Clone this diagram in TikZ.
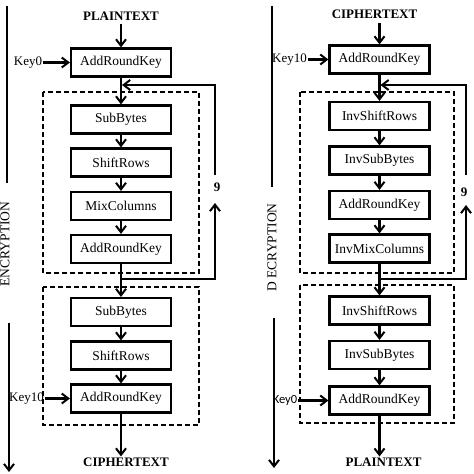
\documentclass[tikz,border=0pt]{standalone}
\usepackage{fontspec}
\setmainfont{Liberation Serif}
\newfontfamily\keysans{Carlito}
\usetikzlibrary{arrows.meta}
\tikzset{
  box/.style={draw, line width=2.2pt, minimum width=100pt, minimum height=28pt, inner sep=0pt, font=\fontsize{13.5}{15}\selectfont},
  lbl/.style={inner sep=1pt, font=\fontsize{13}{14}\selectfont},
  ttl/.style={inner sep=1pt, font=\fontsize{13}{14}\selectfont\bfseries},
  side/.style={inner sep=0pt, rotate=90, font=\fontsize{13.5}{14}\selectfont},
  ln/.style={line width=2.1pt},
  arr/.style={line width=2.1pt, -{Straight Barb[length=6.5pt,width=10pt,line width=2pt]}},
  dashbox/.style={line width=2pt, dash pattern=on 5pt off 3pt}
}
\begin{document}
\begin{tikzpicture}[x=1pt,y=-1pt]
\useasboundingbox[fill=white] (0,0) rectangle (474,474);

% ---------------- ENCRYPTION (left) ----------------
\node[side] (enc) at (5,244) {ENCRYPTION};
\coordinate (eu1) at (7,6);
\coordinate (eu2) at (7,183);
\coordinate (ed1) at (9,323);
\coordinate (ed2) at (9,472);
\draw[ln] (eu1) -- (eu2);
\draw[arr] (ed1) -- (ed2);

\draw[dashbox] (43,92) rectangle (199,273);
\draw[dashbox] (43,287) rectangle (199,425);

\node[ttl] (lpt) at (121,16) {PLAINTEXT};
\node[box] (l1) at (121,62.5) {AddRoundKey};
\node[box] (l2) at (121,119.5) {SubBytes};
\node[box] (l3) at (121,162.5) {ShiftRows};
\node[box] (l4) at (121,206) {MixColumns};
\node[box] (l5) at (121,249) {AddRoundKey};
\node[box] (l6) at (121,312) {SubBytes};
\node[box] (l7) at (121,355.5) {ShiftRows};
\node[box] (l8) at (121,398.5) {AddRoundKey};
\node[ttl] (lct) at (126,462) {CIPHERTEXT};
\node[lbl] (lk0) at (28,62.5) {Key0};
\node[lbl] (lk10) at (26.5,398.5) {Key10};
\node[ttl] (l9) at (217,187) {9};

\draw[arr] (lpt.south) ++(0,3) -- (l1.north);
\draw[arr] (lk0) -- (l1);
\draw[arr] (l1) -- (l2);
\draw[arr] (l2) -- (l3);
\draw[arr] (l3) -- (l4);
\draw[arr] (l4) -- (l5);
\draw[arr] (l5) -- (l6);
\draw[arr] (l6) -- (l7);
\draw[arr] (l7) -- (l8);
\draw[arr] (lk10) -- (l8);
\draw[arr] (l8.south) -- (l8.south |- lct.north);

\coordinate (lj) at (121,279);
\coordinate (la) at (215,279);
\coordinate (lb) at (215,203);
\coordinate (lc) at (215,175);
\coordinate (ld) at (215,85);
\coordinate (le) at (122,85);
\draw[arr] (lj) -- (la) -- (lb);
\draw[arr] (lc) -- (ld) -- (le);

% ---------------- DECRYPTION (right) ----------------
\node[side] (dec) at (272,247.5) {D ECRYPTION};
\coordinate (du1) at (272,6);
\coordinate (du2) at (272,187);
\coordinate (dd1) at (274,318);
\coordinate (dd2) at (274,468);
\draw[ln] (du1) -- (du2);
\draw[arr] (dd1) -- (dd2);

\draw[dashbox] (300,92) rectangle (454,273);
\draw[dashbox] (300,285) rectangle (454,423);

\node[ttl] (rct) at (374.5,14) {CIPHERTEXT};
\node[box] (r1) at (379.5,59.5) {AddRoundKey};
\node[box] (r2) at (379.5,116) {InvShiftRows};
\node[box] (r3) at (379.5,160.5) {InvSubBytes};
\node[box] (r4) at (379.5,205) {AddRoundKey};
\node[box] (r5) at (379.5,248.5) {InvMixColumns};
\node[box] (r6) at (379.5,310.5) {InvShiftRows};
\node[box] (r7) at (379.5,355) {InvSubBytes};
\node[box] (r8) at (379.5,400.5) {AddRoundKey};
\node[ttl] (rpt) at (383.5,462) {PLAINTEXT};
\node[lbl] (rk10) at (289.5,59.5) {Key10};
\node[lbl, font=\keysans\fontsize{12.5}{14}\selectfont] (rk0) at (285,400.5) {Key0};
\node[ttl] (r9) at (464,192) {9};

\draw[arr] (r1.north |- rct.south) ++(0,3) -- (r1.north);
\draw[arr] (rk10) -- (r1);
\draw[arr] (r1) -- (r2);
\draw[arr] (r2) -- (r3);
\draw[arr] (r3) -- (r4);
\draw[arr] (r4) -- (r5);
\draw[arr] (r5) -- (r6);
\draw[arr] (r6) -- (r7);
\draw[arr] (r7) -- (r8);
\draw[arr] (rk0) -- (r8);
\draw[arr] (r8.south) -- (r8.south |- rpt.north);

\coordinate (rj) at (379.5,279);
\coordinate (ra) at (466,279);
\coordinate (rb) at (466,205);
\coordinate (rc) at (466,175);
\coordinate (rd) at (466,85);
\coordinate (re) at (380.5,85);
\draw[arr] (rj) -- (ra) -- (rb);
\draw[arr] (rc) -- (rd) -- (re);
\end{tikzpicture}
\end{document}
